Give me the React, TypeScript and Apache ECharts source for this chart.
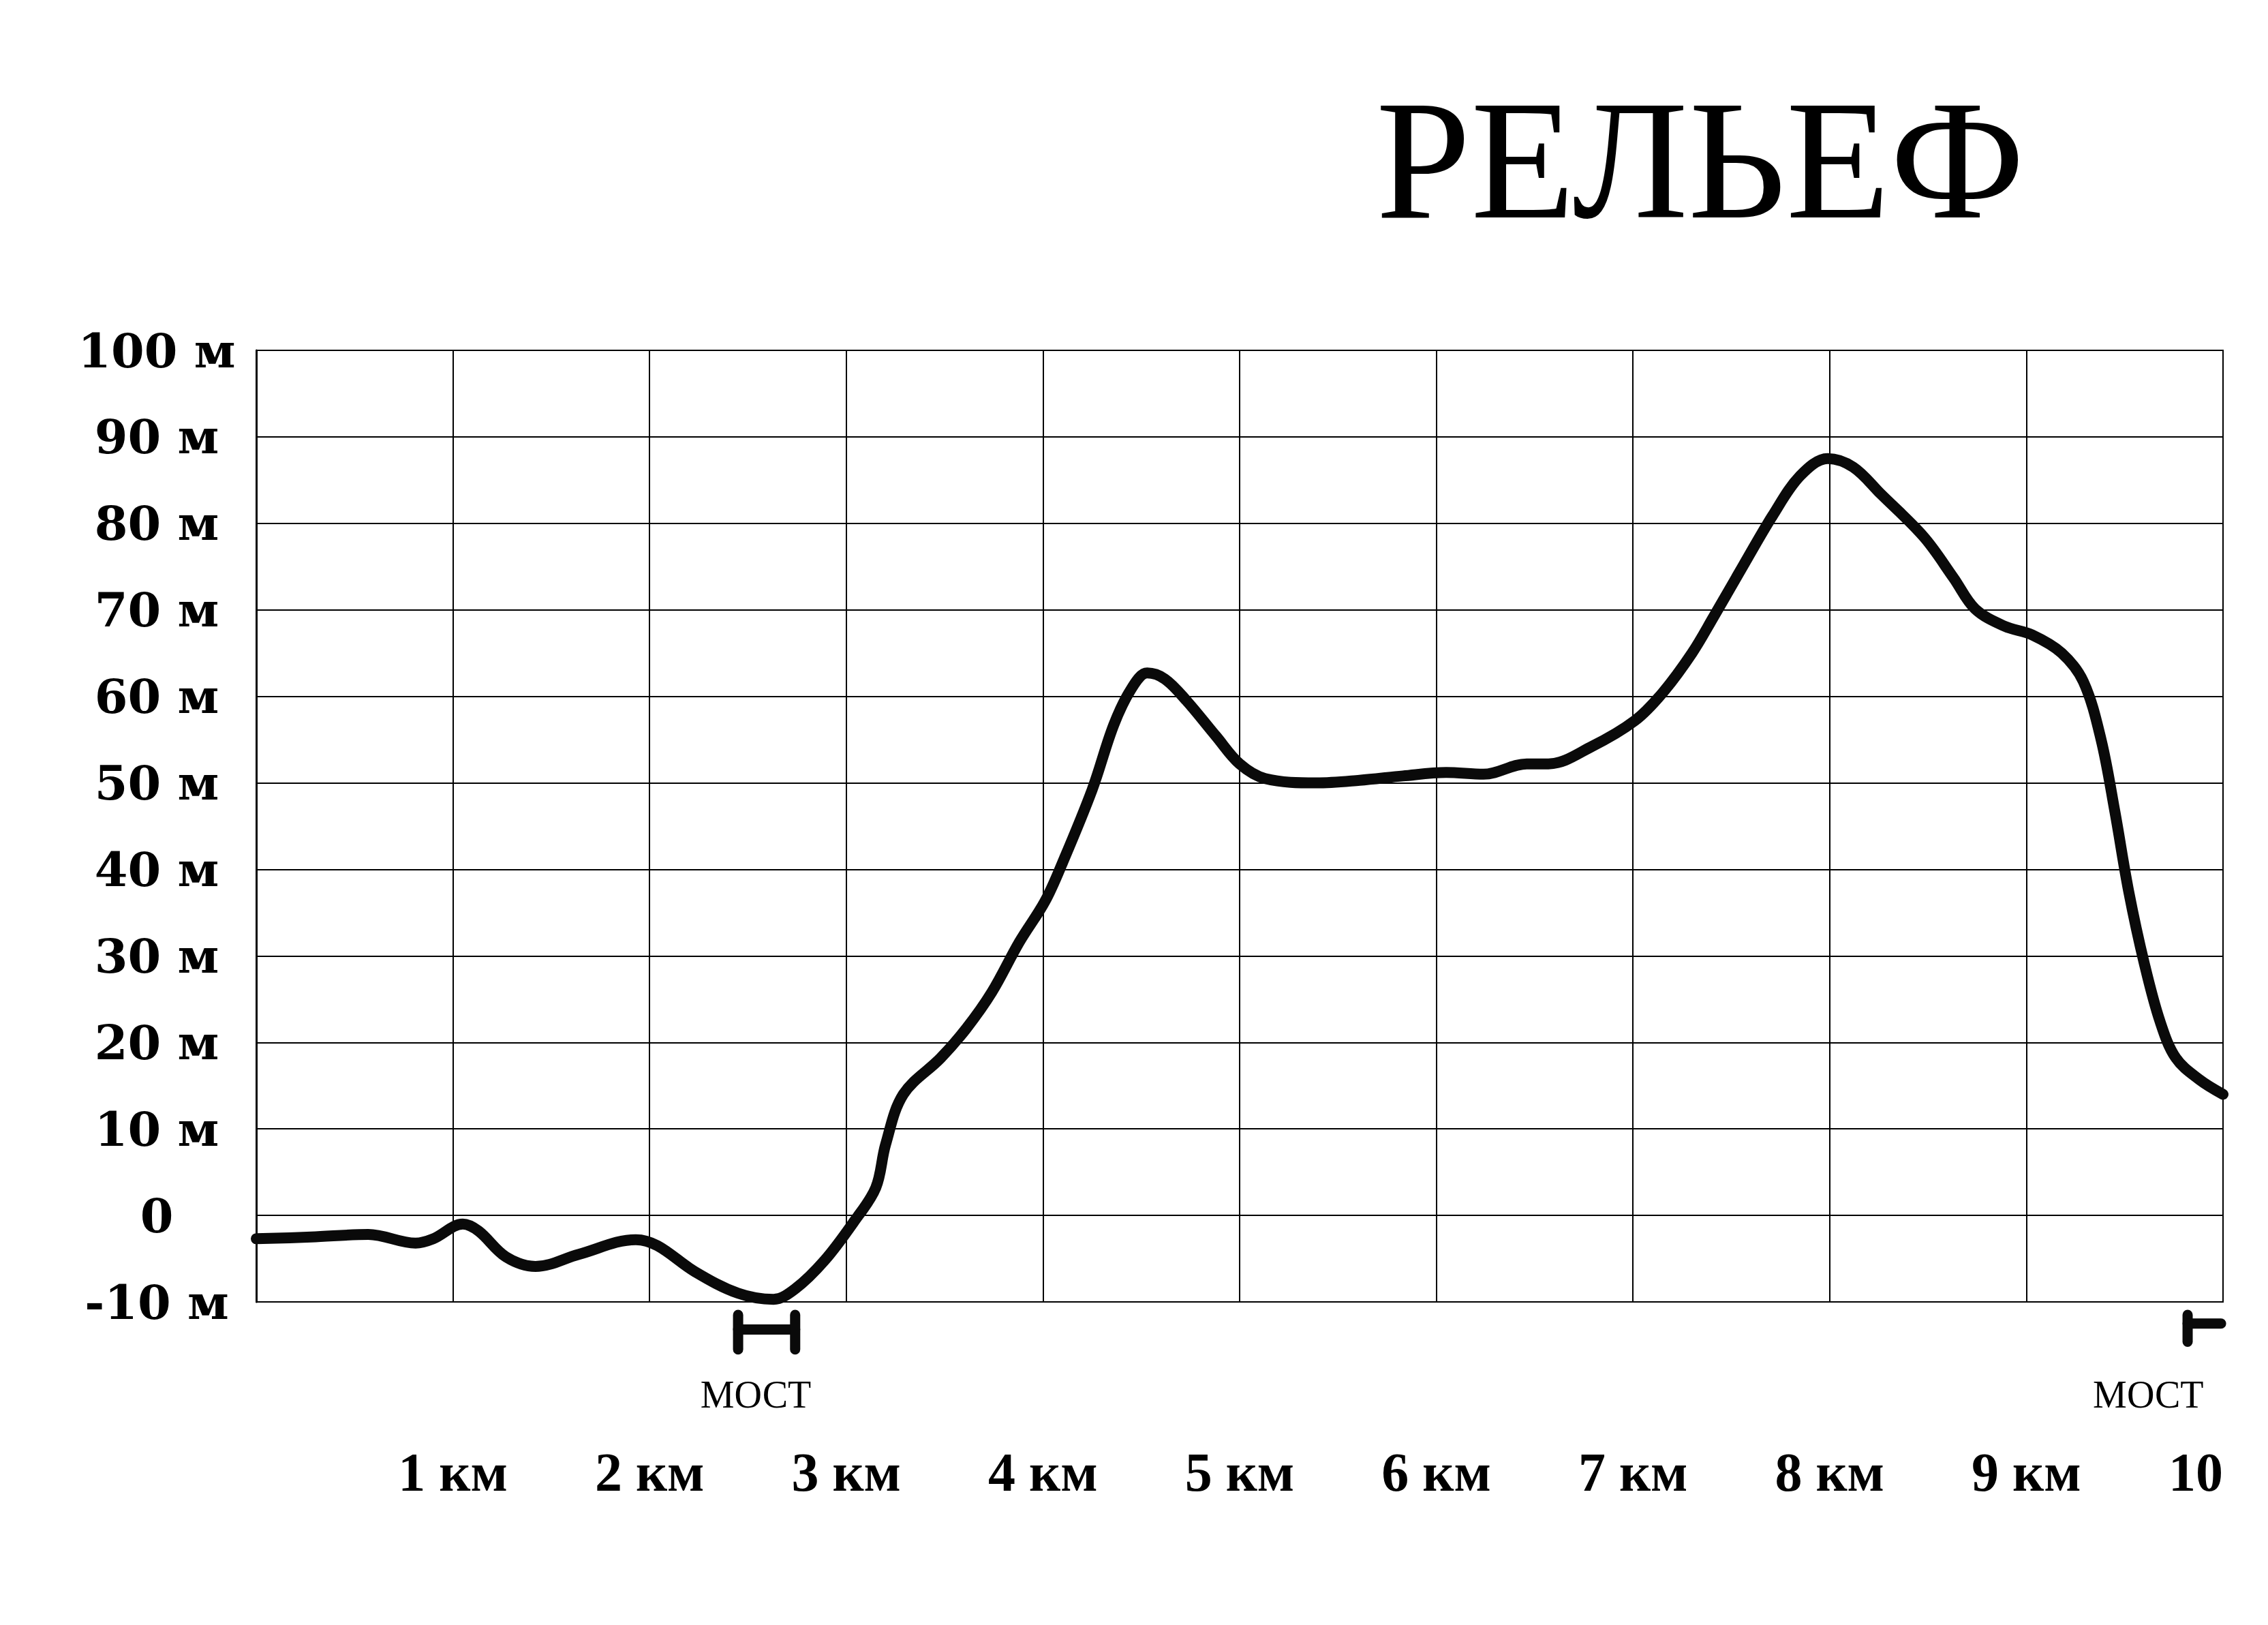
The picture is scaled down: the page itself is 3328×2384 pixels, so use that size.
import React, { useEffect, useRef } from "react";
import * as echarts from "echarts";

// Profile: distance (km) and elevation (m)
const distanceKm = [
  0, 0.28, 0.57, 0.81, 0.9, 1.05, 1.13, 1.27, 1.42, 1.64, 1.93, 2.04, 2.23, 2.45, 2.63, 2.74,
  2.89, 3.04, 3.15, 3.2, 3.29, 3.48, 3.61, 3.74, 3.88, 4.01, 4.1, 4.25, 4.36, 4.45, 4.53, 4.62,
  4.73, 4.88, 5.0, 5.13, 5.39, 5.61, 5.83, 6.05, 6.24, 6.46, 6.57, 6.79, 7.01, 7.15, 7.3, 7.41,
  7.56, 7.71, 7.85, 7.99, 8.12, 8.26, 8.48, 8.63, 8.74, 8.89, 9.03, 9.18, 9.29, 9.38, 9.45,
  9.52, 9.6, 9.68, 9.76, 9.88, 10.0,
];
const elevationM = [
  -2.7, -2.5, -2.2, -3.2, -2.7, -1.0, -1.8, -4.8, -5.9, -4.5, -2.8, -3.5, -6.5, -9.0, -9.7, -8.5,
  -5.2, -0.7, 3.2, 8.2, 14, 18.2, 21.6, 25.8, 31.6, 36.3, 40.8, 49.2, 56.7, 60.9, 62.7, 62,
  59.5, 55.4, 52.2, 50.5, 50, 50.3, 50.8, 51.2, 51, 52.2, 52.2, 54.2, 57.2, 60.4, 65, 69.2,
  75.1, 80.9, 85.5, 87.5, 86.5, 83.4, 78.4, 73.7, 70.1, 68.1, 67.1, 65, 61.7, 55, 46.7,
  37.5, 29.1, 22.4, 18.2, 15.7, 14,
];

// Bridges ("МОСТ"): start km, end km, both ends marked (1) or only start (0), label km
const bridgeStart = [2.45, 9.82];
const bridgeEnd = [2.74, 9.99];
const bridgeBothEnds = [1, 0];
const bridgeLabelAt = [2.54, 9.62];
const bridgeLabel = "МОСТ";

const titleText = "РЕЛЬЕФ";
const yMin = -10;
const yMax = 100;
const yStep = 10;
const xMin = 0;
const xMax = 10;
const xStep = 1;

export default function App() {
  const ref = useRef<HTMLDivElement>(null);

  useEffect(() => {
    document.body.style.margin = "0";
    if (!ref.current) return;
    const chart = echarts.init(ref.current, undefined, { renderer: "svg" });

    const profile = distanceKm.map((d, i) => [d, elevationM[i]]);
    const bridges = bridgeStart.map((s, i) => [s, bridgeEnd[i], bridgeBothEnds[i], bridgeLabelAt[i]]);

    chart.setOption({
      animation: false,
      backgroundColor: "#ffffff",
      title: {
        text: titleText,
        left: 2490,
        top: 104,
        textAlign: "center",
        textStyle: {
          fontFamily: "Liberation Serif",
          fontWeight: "normal",
          fontSize: 250,
          color: "#000",
        },
      },
      grid: {
        left: 376,
        right: 66,
        top: 514,
        bottom: 474,
        show: true,
        borderColor: "#000",
        borderWidth: 2,
        containLabel: false,
      },
      xAxis: {
        type: "value",
        min: xMin,
        max: xMax,
        interval: xStep,
        axisLine: { show: true, lineStyle: { color: "#000", width: 2 } },
        axisTick: { show: false },
        splitLine: { show: true, lineStyle: { color: "#000", width: 2 } },
        axisLabel: {
          margin: 210,
          fontFamily: "Liberation Serif",
          fontWeight: "bold",
          fontSize: 80,
          color: "#000",
          showMinLabel: false,
          alignMaxLabel: "right",
          formatter: (v: number) => (v === 0 ? "" : v === 10 ? "10" : `${v} км`),
        },
      },
      yAxis: {
        type: "value",
        min: yMin,
        max: yMax,
        interval: yStep,
        axisLine: { show: true, lineStyle: { color: "#000", width: 3 } },
        axisTick: { show: false },
        splitLine: { show: true, lineStyle: { color: "#000", width: 2 } },
        axisLabel: {
          margin: 146,
          align: "center",
          fontFamily: "DejaVu Serif",
          fontWeight: "bold",
          fontSize: 70,
          color: "#000",
          formatter: (v: number) => (v === 0 ? "0" : `${v} м`),
        },
      },
      series: [
        {
          type: "line",
          data: profile,
          smooth: 0.35,
          symbol: "none",
          lineStyle: { color: "#0a0a0a", width: 16, cap: "round", join: "round" },
          z: 5,
        },
        {
          type: "custom",
          data: bridges,
          clip: false,
          renderItem: (params: any, api: any) => {
            const s = api.value(0);
            const e = api.value(1);
            const both = api.value(2);
            const lx = api.value(3);
            const yMid = both ? -13.2 : -12.5;
            const a = api.coord([s, yMid]);
            const b = api.coord([e, yMid]);
            const top = api.coord([s, -11.5]);
            const bot = api.coord([s, both ? -15.5 : -14.6]);
            const style = { stroke: "#0a0a0a", lineWidth: 15, lineCap: "round" };
            const children: any[] = [
              { type: "line", shape: { x1: top[0], y1: top[1], x2: bot[0], y2: bot[1] }, style },
              { type: "line", shape: { x1: a[0], y1: a[1], x2: b[0], y2: b[1] }, style },
            ];
            if (both) {
              const t2 = api.coord([e, -11.5]);
              const b2 = api.coord([e, -15.5]);
              children.push({ type: "line", shape: { x1: t2[0], y1: t2[1], x2: b2[0], y2: b2[1] }, style });
            }
            const lp = api.coord([lx, -20.7]);
            children.push({
              type: "text",
              x: lp[0],
              y: lp[1],
              style: {
                text: bridgeLabel,
                fontFamily: "Liberation Serif",
                fontSize: 56,
                fill: "#000",
                align: "center",
                verticalAlign: "middle",
              },
            });
            return { type: "group", children };
          },
          z: 6,
        },
      ],
    });

    return () => chart.dispose();
  }, []);

  return <div ref={ref} style={{ width: 3328, height: 2384 }} />;
}
